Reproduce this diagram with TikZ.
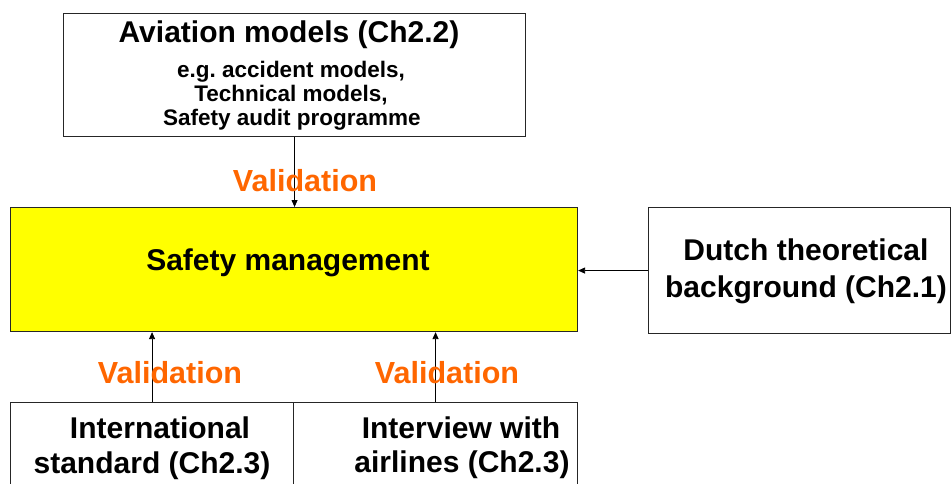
\documentclass[tikz,border=0pt]{standalone}
\usepackage{fontspec}
\setmainfont{Liberation Sans}
\usetikzlibrary{arrows.meta}
\frenchspacing
\definecolor{valorange}{HTML}{FF6600}
\definecolor{boxyellow}{HTML}{FFFF00}
\tikzset{
  panel/.style={draw=black!85, line width=1.1pt, rectangle, inner sep=0pt, anchor=north west},
  bigtxt/.style={font=\bfseries\fontsize{30}{36}\selectfont, inner sep=0pt, anchor=base},
  smalltxt/.style={font=\bfseries\fontsize{22.5}{27}\selectfont, inner sep=0pt, anchor=base},
  valtxt/.style={font=\bfseries\fontsize{30.5}{36}\selectfont, text=valorange, inner sep=0pt, anchor=base},
  link/.style={draw=black, line width=0.8pt, -{Triangle[length=7pt,width=6pt]}}
}
\begin{document}
\begin{tikzpicture}[x=1pt,y=-1pt]
  \useasboundingbox (0,0) rectangle (951,483);
  \clip (0,0) rectangle (951,483);

  % boxes
  \node[panel, minimum width=462pt, minimum height=123pt] (aviation) at (63,13) {};
  \node[panel, fill=boxyellow, minimum width=567pt, minimum height=124pt] (sm) at (10,207) {};
  \node[panel, minimum width=302pt, minimum height=126pt] (dutch) at (648,207) {};
  \node[panel, minimum width=283pt, minimum height=110pt] (intl) at (10,402) {};
  \node[panel, minimum width=284pt, minimum height=110pt] (interview) at (293,402) {};

  % box texts
  \node[bigtxt] (avtitle) at (289,42) {Aviation models (Ch2.2)};
  \node[smalltxt] (av1) at (291,77) {e.g. accident models,};
  \node[smalltxt] (av2) at (291,101) {Technical models,};
  \node[smalltxt] (av3) at (292,125) {Safety audit programme};
  \node[bigtxt] (smtxt) at (288,270) {Safety management};
  \node[bigtxt] (du1) at (806,260) {Dutch theoretical};
  \node[bigtxt] (du2) at (806,297) {background (Ch2.1)};
  \node[bigtxt] (in1) at (160,438) {International};
  \node[bigtxt] (in2) at (152,473) {standard (Ch2.3)};
  \node[bigtxt] (iv1) at (461,438) {Interview with};
  \node[bigtxt] (iv2) at (462,472) {airlines (Ch2.3)};

  % connectors
  \draw[link] (aviation.south) -- (aviation.south |- sm.north);
  \draw[link] (dutch.west) -- (dutch.west -| sm.east);
  \draw[link] (intl.north) -- (intl.north |- sm.south);
  \draw[link] (interview.north) -- (interview.north |- sm.south);

  % connector labels
  \node[valtxt] (val1) at (305,191) {Validation};
  \node[valtxt] (val2) at (170,383) {Validation};
  \node[valtxt] (val3) at (447,383) {Validation};
\end{tikzpicture}
\end{document}
